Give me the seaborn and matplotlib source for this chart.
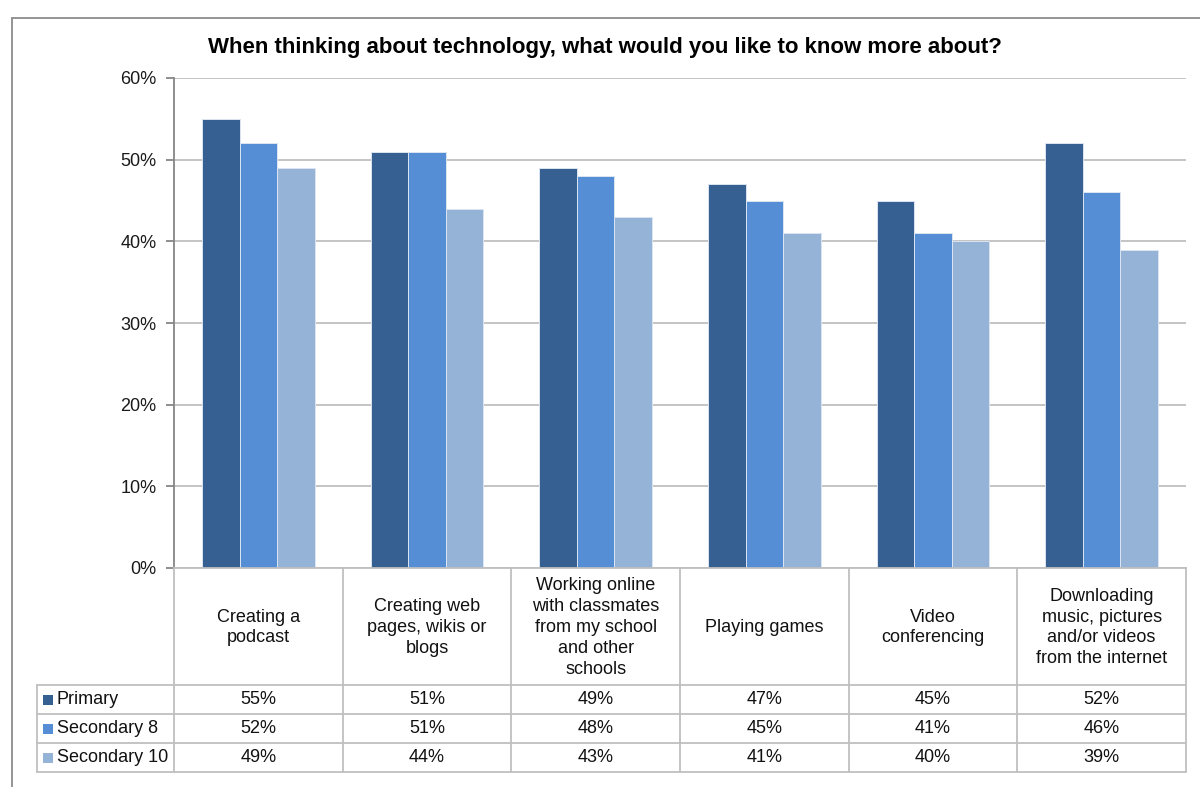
import matplotlib
matplotlib.use("Agg")
import matplotlib.pyplot as plt
from matplotlib.lines import Line2D
from matplotlib.patches import Rectangle
from matplotlib.ticker import PercentFormatter, MultipleLocator
import seaborn as sns
import pandas as pd

# ---- data -------------------------------------------------------------
categories = [
    "Creating a\npodcast",
    "Creating web\npages, wikis or\nblogs",
    "Working online\nwith classmates\nfrom my school\nand other\nschools",
    "Playing games",
    "Video\nconferencing",
    "Downloading\nmusic, pictures\nand/or videos\nfrom the internet",
]
groups = ["Primary", "Secondary 8", "Secondary 10"]
primary = [55, 51, 49, 47, 45, 52]
secondary_8 = [52, 51, 48, 45, 41, 46]
secondary_10 = [49, 44, 43, 41, 40, 39]
colors = ["#376092", "#558ED5", "#95B3D7"]
title = "When thinking about technology, what would you like to know more about?"

series = [primary, secondary_8, secondary_10]
df = pd.DataFrame(
    [(c, g, v) for g, vals in zip(groups, series) for c, v in zip(categories, vals)],
    columns=["category", "group", "value"],
)

# ---- style ------------------------------------------------------------
sns.set_style("white")
plt.rcParams["font.family"] = ["Liberation Sans", "DejaVu Sans"]

W, H = 1200, 787
fig = plt.figure(figsize=(W / 100, H / 100), dpi=100)
FS = 13


def fx(x):
    return x / W


def fy(y):
    return 1 - y / H


ax_left, ax_right, ax_top, ax_bottom = 174, 1186, 78, 568
ax = fig.add_axes([fx(ax_left), fy(ax_bottom), fx(ax_right - ax_left),
                   (ax_bottom - ax_top) / H])

sns.barplot(data=df, x="category", y="value", hue="group",
            order=categories, hue_order=groups, palette=colors,
            saturation=1, width=0.667, edgecolor="#dbe5f1", linewidth=0.7,
            legend=False, ax=ax)

ax.set_xlim(-0.5, len(categories) - 0.5)
ax.set_ylim(0, 60)
ax.yaxis.set_major_locator(MultipleLocator(10))
ax.yaxis.set_major_formatter(PercentFormatter(decimals=0))
ax.set_xlabel("")
ax.set_ylabel("")
ax.set_xticks([])
ax.set_axisbelow(True)
ax.yaxis.grid(True, color="#BFBFBF", linewidth=1.3)
for side in ("top", "right"):
    ax.spines[side].set_visible(False)
ax.spines["left"].set_color("#868686")
ax.spines["left"].set_linewidth(1.3)
ax.spines["bottom"].set_color("#BFBFBF")
ax.spines["bottom"].set_linewidth(1.3)
ax.tick_params(axis="y", direction="out", length=6, width=1.3,
               color="#868686", labelsize=FS, pad=6.5, left=True)
for t in ax.get_yticklabels():
    t.set_color("#1a1a1a")

# ---- title ------------------------------------------------------------
fig.text(fx(605), fy(47), title, ha="center", va="center",
         fontsize=16, fontweight="bold", color="black")

# ---- outer frame ------------------------------------------------------
frame_col = "#8c8c8c"
fig.add_artist(Line2D([fx(12), fx(12)], [fy(18), fy(787)],
                      transform=fig.transFigure, color=frame_col, lw=1.3))
fig.add_artist(Line2D([fx(12), fx(1200)], [fy(18), fy(18)],
                      transform=fig.transFigure, color=frame_col, lw=1.3))

# ---- data table -------------------------------------------------------
grid_col = "#BFBFBF"
n = len(categories)
col_w = (ax_right - ax_left) / n
col_edges = [ax_left + i * col_w for i in range(n + 1)]
header_bottom = 685
row_h = 29
row_edges = [header_bottom + i * row_h for i in range(len(groups) + 1)]
legend_left = 37


def hline(y, x0, x1):
    fig.add_artist(Line2D([fx(x0), fx(x1)], [fy(y), fy(y)],
                          transform=fig.transFigure, color=grid_col, lw=1.3))


def vline(x, y0, y1, color=grid_col):
    fig.add_artist(Line2D([fx(x), fx(x)], [fy(y0), fy(y1)],
                          transform=fig.transFigure, color=color, lw=1.3))


for y in row_edges:
    hline(y, legend_left, ax_right)
for x in col_edges:
    vline(x, ax_bottom, row_edges[-1])
vline(legend_left, header_bottom, row_edges[-1])

# category headers
for i, cat in enumerate(categories):
    cx = (col_edges[i] + col_edges[i + 1]) / 2
    fig.text(fx(cx), fy((ax_bottom + header_bottom) / 2 + 1), cat,
             ha="center", va="center", fontsize=FS, linespacing=1.3,
             color="#111111")

# value rows with legend keys
for r, (g, vals, col) in enumerate(zip(groups, series, colors)):
    cy = (row_edges[r] + row_edges[r + 1]) / 2
    fig.add_artist(Rectangle((fx(43), fy(cy + 5)), fx(10), 10 / H,
                             transform=fig.transFigure, facecolor=col,
                             edgecolor="none"))
    fig.text(fx(57), fy(cy), g, ha="left", va="center", fontsize=FS,
             color="#111111")
    for i, v in enumerate(vals):
        cx = (col_edges[i] + col_edges[i + 1]) / 2
        fig.text(fx(cx), fy(cy), f"{v}%", ha="center", va="center",
                 fontsize=FS, color="#111111")

fig.savefig("out.png", dpi=100, facecolor="white")
